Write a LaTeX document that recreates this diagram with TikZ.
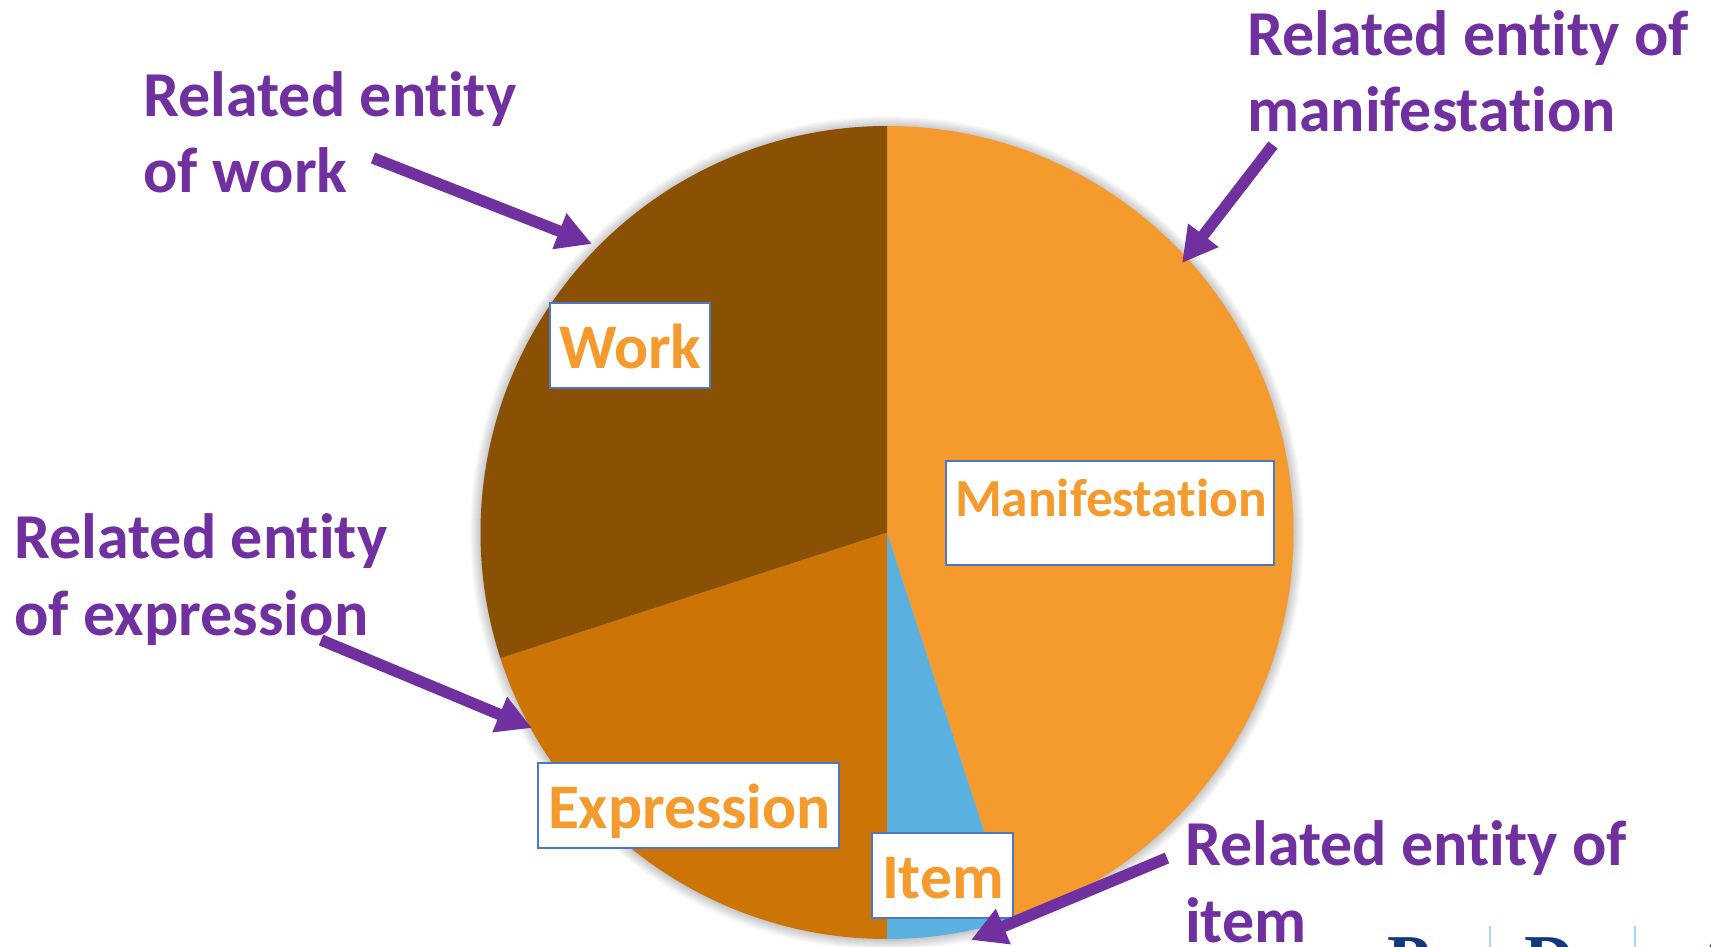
\documentclass[tikz,border=0pt]{standalone}
\usepackage{fontspec}
\setmainfont[Ligatures=NoCommon]{Carlito}
\newfontfamily\logofont{Liberation Serif}
\usetikzlibrary{arrows.meta}
\definecolor{purp}{HTML}{7030A0}
\definecolor{manif}{HTML}{F59A2D}
\definecolor{itemc}{HTML}{5AB1E0}
\definecolor{expr}{HTML}{CD7406}
\definecolor{workc}{HTML}{8A5003}
\definecolor{boxline}{HTML}{4A78C4}
\definecolor{logoblue}{HTML}{12397F}
\definecolor{logoline}{HTML}{A8D2FF}
\tikzset{
  x=1pt,y=-1pt,
  callout/.style={anchor=base west,inner sep=0pt,outer sep=0pt,text=purp,font=\fontsize{64}{77}\selectfont\bfseries,align=left},
  boxlabel/.style={anchor=base west,inner sep=0pt,outer sep=0pt,text=manif,font=\fontsize{63.5}{70}\selectfont\bfseries},
  whitebox/.style={draw=boxline,line width=1.5pt,fill=white,inner sep=0pt,outer sep=0pt},
  pointer/.style={draw=purp,line width=11.5pt,-{Triangle[length=35pt,width=36pt,fill=purp]}},
  logolet/.style={anchor=base west,inner sep=0pt,outer sep=0pt,text=logoblue,font=\fontsize{70}{70}\selectfont\logofont\bfseries},
  logosep/.style={draw=logoline,line width=1.5pt},
}
\begin{document}
\begin{tikzpicture}
\useasboundingbox (0,0) rectangle (1711,947);
\clip (0,0) rectangle (1711,947);
\fill[white] (0,0) rectangle (1711,947);
% soft glow
\foreach \r in {1,2,...,12}{\fill[black,opacity=0.018] (887,533) circle[radius=405+\r];}
% pie
\coordinate (c) at (887,532.5);
\fill[manif] (c) -- +(270:406.5) arc[start angle=270,end angle=432,radius=406.5] -- cycle;
\fill[itemc] (c) -- +(72:406.5) arc[start angle=72,end angle=90,radius=406.5] -- cycle;
\fill[expr] (c) -- +(90:406.5) arc[start angle=90,end angle=162,radius=406.5] -- cycle;
\fill[workc] (c) -- +(162:406.5) arc[start angle=162,end angle=270,radius=406.5] -- cycle;
% boxes
\node[whitebox,minimum width=160pt,minimum height=85pt] (workbox) at (630,345.5) {};
\node[boxlabel] (worktext) at (559,368) {Work};
\node[whitebox,minimum width=328pt,minimum height=104pt] (manifbox) at (1110,513) {};
\node[boxlabel,font=\fontsize{53.5}{60}\selectfont\bfseries] (maniftext) at (955,516) {Manifestation};
\node[whitebox,minimum width=301pt,minimum height=85pt] (exprbox) at (688.5,805.5) {};
\node[boxlabel] (exprtext) at (548,828) {Expression};
\node[whitebox,minimum width=141pt,minimum height=85pt] (itembox) at (942.5,875.5) {};
\node[boxlabel] (itemtext) at (882,898) {Item};
% callouts
\node[callout] (lmanif) at (1247,132) {Related entity of\\manifestation};
\node[callout] (lwork) at (143.5,193) {Related entity\\of work};
\node[callout] (lexpr) at (14.5,635) {Related entity\\of expression};
\node[callout] (litem) at (1185,942) {Related entity of\\item};
% pointers
\coordinate (a1s) at (373,158); \coordinate (a1e) at (592,244);
\coordinate (a2s) at (1273,145); \coordinate (a2e) at (1182,263);
\coordinate (a3s) at (321,640); \coordinate (a3e) at (532,728);
\coordinate (a4s) at (1167,858); \coordinate (a4e) at (971,940);
\draw[pointer] (a1s) -- (a1e);
\draw[pointer] (a2s) -- (a2e);
\draw[pointer] (a3s) -- (a3e);
\draw[pointer] (a4s) -- (a4e);
% logo, cut by the page edge
\node[logolet] (logop) at (1387,983) {P};
\node[logolet] (logod) at (1524,983) {D};
\node[logolet] (logoa) at (1693,983) {A};
\coordinate (s1t) at (1490,926); \coordinate (s1b) at (1490,947);
\coordinate (s2t) at (1635,926); \coordinate (s2b) at (1635,947);
\draw[logosep] (s1t) -- (s1b);
\draw[logosep] (s2t) -- (s2b);
\end{tikzpicture}
\end{document}
